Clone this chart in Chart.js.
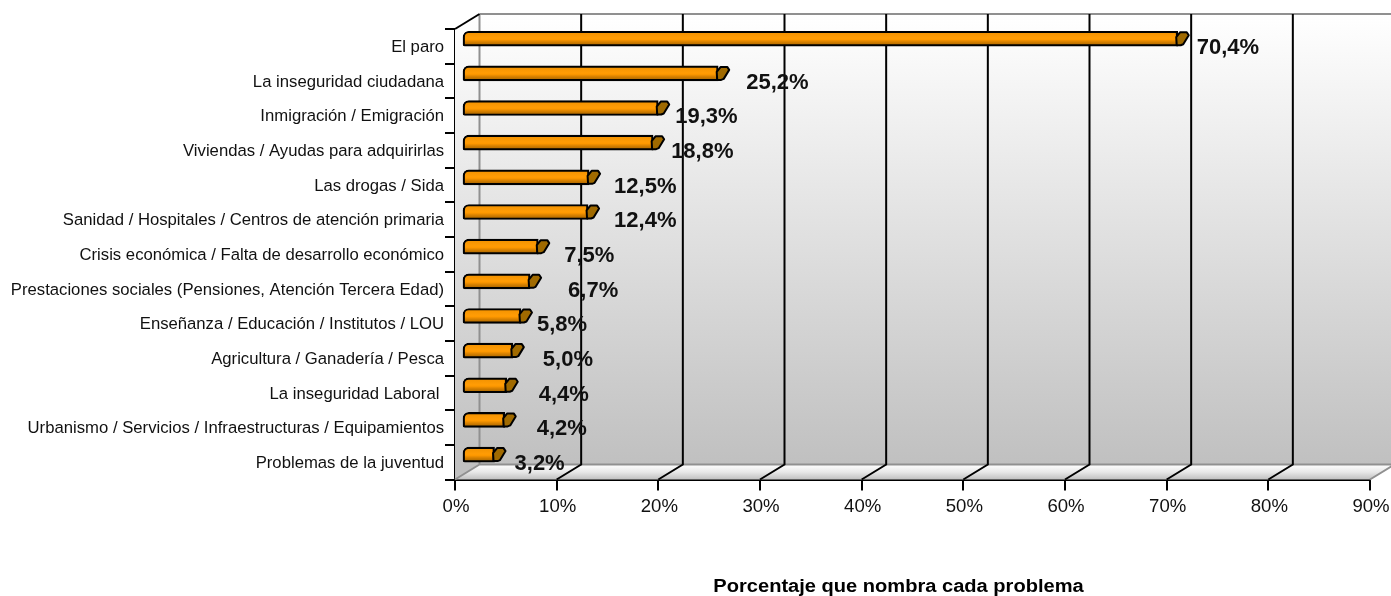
<!DOCTYPE html>
<html><head><meta charset="utf-8">
<style>html,body{margin:0;padding:0;background:#fff}canvas{display:block}</style>
<script src="https://cdn.jsdelivr.net/npm/chart.js@4"></script>
</head><body><canvas id="c" width="1391" height="596"></canvas>
<script>
const categories = ["El paro","La inseguridad ciudadana","Inmigración / Emigración","Viviendas / Ayudas para adquirirlas","Las drogas / Sida","Sanidad / Hospitales / Centros de atención primaria","Crisis económica / Falta de desarrollo económico","Prestaciones sociales (Pensiones, Atención Tercera Edad)","Enseñanza / Educación / Institutos / LOU","Agricultura / Ganadería / Pesca","La inseguridad Laboral ","Urbanismo / Servicios / Infraestructuras / Equipamientos","Problemas de la juventud"];
const values = [70.4,25.2,19.3,18.8,12.5,12.4,7.5,6.7,5.8,5.0,4.4,4.2,3.2];
const axisMax = 90;
const axisStep = 10;
const axisTitle = "Porcentaje que nombra cada problema";
// hand placement of the value labels, px to the right of the bar's end
const labelNudge = [19,28,17,18,25,26,26,38,16,30,32,32,20];

const DEPTH_X = 24.5, DEPTH_Y = 15, BAR_DX = 7, BAR_DY = -7.6;
const FONT = '"Liberation Sans", Arial, sans-serif';

function barFill(ctx){
  const chart = ctx.chart, s = chart.scales.y;
  if(!s || ctx.dataIndex === undefined) return '#ff9900';
  const yc = s.getPixelForValue(ctx.dataIndex);
  if(!isFinite(yc)) return '#ff9900';
  const g = chart.ctx.createLinearGradient(0, yc-7.5, 0, yc+7.5);
  g.addColorStop(0,'#f09000');
  g.addColorStop(0.45,'#ff9c05');
  g.addColorStop(0.55,'#ff9900');
  g.addColorStop(0.72,'#d68000');
  g.addColorStop(0.9,'#b06a00');
  g.addColorStop(1,'#a86500');
  return g;
}

const scene = {
  id:'scene',
  beforeDraw(chart){
    chart.scales.y.getLabelItems().forEach(i=>{i.options.translation[1]+=1.2;});
    chart.scales.x.getLabelItems().forEach(i=>{i.options.translation[0]+=1;i.options.translation[1]-=1;});
  },
  beforeDatasetsDraw(chart){
    const c = chart.ctx, x = chart.scales.x, a = chart.chartArea;
    const x0 = x.getPixelForValue(0), xN = x.getPixelForValue(axisMax);
    const t = a.top, b = a.bottom;
    c.save();
    const wall = c.createLinearGradient(0,t-DEPTH_Y,0,b-DEPTH_Y);
    wall.addColorStop(0,'#ffffff'); wall.addColorStop(1,'#c0c0c0');
    c.fillStyle = wall;
    c.fillRect(x0+DEPTH_X,t-DEPTH_Y,xN-x0,b-t);
    c.beginPath(); c.moveTo(x0,t); c.lineTo(x0+DEPTH_X,t-DEPTH_Y); c.lineTo(x0+DEPTH_X,b-DEPTH_Y); c.lineTo(x0,b); c.closePath(); c.fill();
    const floor = c.createLinearGradient(0,b-DEPTH_Y,0,b);
    floor.addColorStop(0,'#ffffff'); floor.addColorStop(0.5,'#e8e8e8'); floor.addColorStop(1,'#c0c0c0');
    c.fillStyle = floor;
    c.beginPath(); c.moveTo(x0,b); c.lineTo(x0+DEPTH_X,b-DEPTH_Y); c.lineTo(xN+DEPTH_X,b-DEPTH_Y); c.lineTo(xN,b); c.closePath(); c.fill();
    // wall edges
    c.lineWidth = 2; c.strokeStyle = '#909090';
    c.beginPath(); c.moveTo(x0+DEPTH_X,t-DEPTH_Y); c.lineTo(xN+DEPTH_X,t-DEPTH_Y);
    c.moveTo(x0+DEPTH_X,t-DEPTH_Y); c.lineTo(x0+DEPTH_X,b-DEPTH_Y);
    c.moveTo(x0+DEPTH_X,b-DEPTH_Y); c.lineTo(xN+DEPTH_X,b-DEPTH_Y);
    c.moveTo(x0,b); c.lineTo(x0+DEPTH_X,b-DEPTH_Y);
    c.moveTo(xN,b); c.lineTo(xN+DEPTH_X,b-DEPTH_Y);
    c.stroke();
    // gridlines on wall and floor
    c.strokeStyle = '#000';
    c.beginPath();
    for(let v=axisStep; v<axisMax; v+=axisStep){
      const px = x.getPixelForValue(v);
      c.moveTo(px,b); c.lineTo(px+DEPTH_X,b-DEPTH_Y); c.lineTo(px+DEPTH_X,t-DEPTH_Y);
    }
    c.stroke();
    // axes
    c.beginPath(); c.moveTo(x0,t); c.lineTo(x0+DEPTH_X,t-DEPTH_Y);
    c.stroke();
    c.restore();
  },
  beforeDatasetDraw(chart){
    const c = chart.ctx; c.save(); c.translate(BAR_DX,BAR_DY);
  },
  afterDatasetDraw(chart){
    const c = chart.ctx;
    chart.getDatasetMeta(0).data.forEach(el=>{
      const X = el.x, y1 = el.y-7.5, y2 = el.y+7.5;
      c.beginPath();
      c.moveTo(X-1,y2-1);
      c.lineTo(X-1.5,y1+6);
      c.lineTo(X+2.5,y1+1);
      c.lineTo(X+9,y1+1);
      c.lineTo(X+11,y1+4);
      c.lineTo(X+5.5,y2-2);
      c.lineTo(X+3,y2-1);
      c.closePath();
      c.fillStyle = '#a06a00'; c.fill();
      c.lineWidth = 2; c.lineJoin = 'round'; c.strokeStyle = '#000'; c.stroke();
    });
    c.restore();
  },
  afterDraw(chart){
    const c = chart.ctx, x = chart.scales.x, y = chart.scales.y;
    c.save();
    c.fillStyle = '#111'; c.font = 'bold 22px '+FONT; c.textBaseline='middle'; c.textAlign='left';
    values.forEach((v,i)=>{
      const txt = v.toFixed(1).replace('.',',')+'%';
      c.fillText(txt, x.getPixelForValue(v)+BAR_DX+labelNudge[i], y.getPixelForValue(i)+1.7);
    });
    c.fillStyle = '#000'; c.font = 'bold 18px '+FONT; c.textAlign='center';
    c.translate(x.getPixelForValue(axisMax/2)-14, 587);
    c.scale(1.115,1);
    c.fillText(axisTitle, 0, 0);
    c.restore();
  }
};

new Chart(document.getElementById('c'),{
  type:'bar',
  data:{labels:categories,datasets:[{data:values,label:axisTitle,barThickness:15,borderWidth:2.2,borderColor:'#000',borderSkipped:false,
    borderRadius:{topLeft:6,bottomLeft:2,topRight:0,bottomRight:0},backgroundColor:barFill,clip:false}]},
  plugins:[scene],
  options:{
    indexAxis:'y',responsive:false,animation:false,devicePixelRatio:1,
    layout:{padding:{top:29,right:21,bottom:0,left:0}},
    plugins:{legend:{display:false},tooltip:{enabled:false},title:{display:false}},
    scales:{
      x:{type:'linear',min:0,max:axisMax,
        ticks:{stepSize:axisStep,color:'#111',font:{family:FONT,size:18.6},padding:6,maxRotation:0,autoSkip:false,callback:v=>v+'%'},
        grid:{drawOnChartArea:false,tickLength:11,color:'#000',tickColor:'#000',lineWidth:2},
        border:{color:'#000',width:2},
        afterFit(s){s.height=116.5;s.paddingRight=0;s.paddingLeft=0;}},
      y:{type:'category',
        ticks:{color:'#111',font:{family:FONT,size:16.7},padding:1,autoSkip:false},
        grid:{drawOnChartArea:false,tickLength:10,color:'#000',tickColor:'#000',lineWidth:2,offset:true},
        border:{color:'#000',width:2},
        afterFit(s){s.width=455;s.paddingTop=0;s.paddingBottom=0;}}
    }
  }
});
</script></body></html>
